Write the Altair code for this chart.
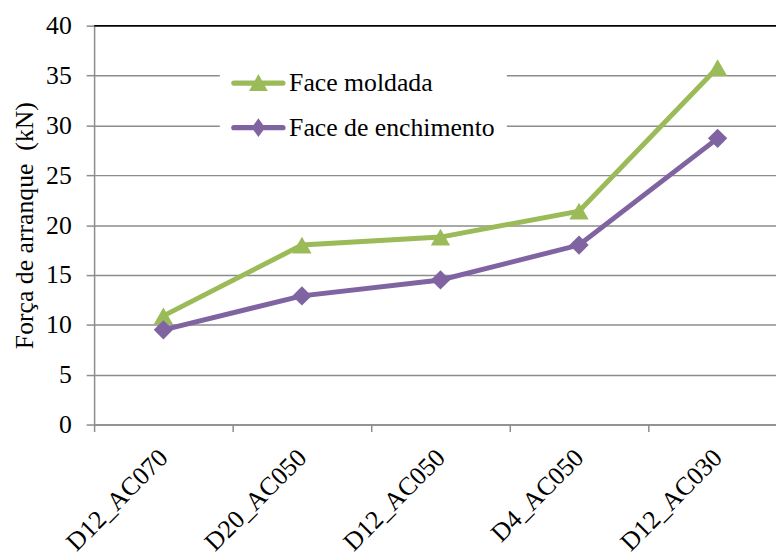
import altair as alt
import pandas as pd

categories = ["D12_AC070", "D20_AC050", "D12_AC050", "D4_AC050", "D12_AC030"]
series_names = ["Face moldada", "Face de enchimento"]
face_moldada = [10.9, 18.0, 18.8, 21.4, 35.8]
face_enchimento = [9.5, 12.9, 14.5, 18.0, 28.7]
y_ticks = [0, 5, 10, 15, 20, 25, 30, 35, 40]
y_max = [40]
y_title = "Força de arranque\u00a0 (kN)"

colors = ["#9BBB59", "#8064A2"]
FONT = "'Liberation Serif', 'Times New Roman', serif"
GRID = "#8c8c8c"

rows = []
for name, vals in zip(series_names, [face_moldada, face_enchimento]):
    for c, v in zip(categories, vals):
        rows.append({"cat": c, "serie": name, "valor": v})
df = pd.DataFrame(rows)

x = alt.X(
    "cat:N", sort=categories, title=None,
    scale=alt.Scale(type="band", range=[0, 700], paddingInner=0, paddingOuter=0),
    axis=alt.Axis(labelAngle=-45, labelAlign="right", labelBaseline="middle",
                  tickBand="extent", tickSize=7, labelPadding=22, labelFont=FONT,
                  labelFontSize=26, labelColor="black",
                  grid=False, labelOverlap=False, labelBound=False, labelLimit=0),
)
y = alt.Y(
    "valor:Q",
    scale=alt.Scale(domain=[0, 40]),
    axis=alt.Axis(values=y_ticks, title=y_title, titlePadding=8, labelFont=FONT,
                  titleFont=FONT, labelFontSize=26, titleFontSize=26,
                  titleFontWeight="normal", labelColor="black", titleColor="black",
                  labelPadding=15, tickSize=8, titleLimit=0,
                  gridColor=GRID, gridWidth=1.5),
)

color_scale = alt.Scale(domain=series_names, range=colors)

line_path = "M-0.92,-0.1L0.92,-0.1A0.1,0.1 0 0 1 0.92,0.1L-0.92,0.1A0.1,0.1 0 0 1 -0.92,-0.1Z"
tri_path = line_path + "M0,-0.34L0.35,0.3L-0.35,0.3Z"
dia_path = line_path + "M0,-0.35L0.25,0L0,0.35L-0.25,0Z"

leg = dict(title=None, orient="none", legendX=127, legendY=19, fillColor="white",
           padding=12, labelOffset=4, rowPadding=5, symbolSize=2916, symbolOpacity=1,
           symbolStrokeWidth=0, labelLimit=0)

base = alt.Chart(df)
top_rule = alt.Chart(pd.DataFrame({"v": y_max})).mark_rule(color="black", strokeWidth=1.5).encode(
    y=alt.Y("v:Q"))
lines = base.mark_line(strokeWidth=5).encode(
    x=x, y=y, color=alt.Color("serie:N", scale=color_scale, legend=None))
points = base.mark_point(filled=True, size=380, opacity=1).encode(
    x=x, y=y,
    color=alt.Color("serie:N", scale=color_scale, legend=None),
    shape=alt.Shape("serie:N", scale=alt.Scale(domain=series_names, range=["triangle-up", "diamond"]), legend=None))
legend_layer = base.mark_point(filled=True, opacity=0).encode(
    x=x, y=y,
    color=alt.Color("serie:N", scale=color_scale, legend=alt.Legend(**leg)),
    shape=alt.Shape("serie:N", scale=alt.Scale(domain=series_names, range=[tri_path, dia_path]),
                    legend=alt.Legend(**leg)))

chart = alt.layer(lines, top_rule, points, legend_layer).resolve_scale(
    color="independent", shape="independent"
).properties(
    width=689, height=403,
    autosize=alt.AutoSizeParams(type="none"),
    padding={"left": 87, "top": 15, "right": 0, "bottom": 134},
    background="white",
).configure(
    font=FONT,
    style={
        "guide-label": {"font": FONT, "fontSize": 26, "fill": "black"},
        "guide-title": {"font": FONT, "fontSize": 26, "fill": "black", "fontWeight": "normal"},
    },
).configure_view(stroke=None).configure_axis(
    labelFont=FONT, titleFont=FONT,
    tickColor=GRID, tickWidth=1.5, domainColor=GRID, domainWidth=1.5,
).configure_legend(
    labelFont=FONT, labelFontSize=26, labelColor="black",
)

chart.save("out.html", embed_options={"renderer": "svg", "actions": False})
